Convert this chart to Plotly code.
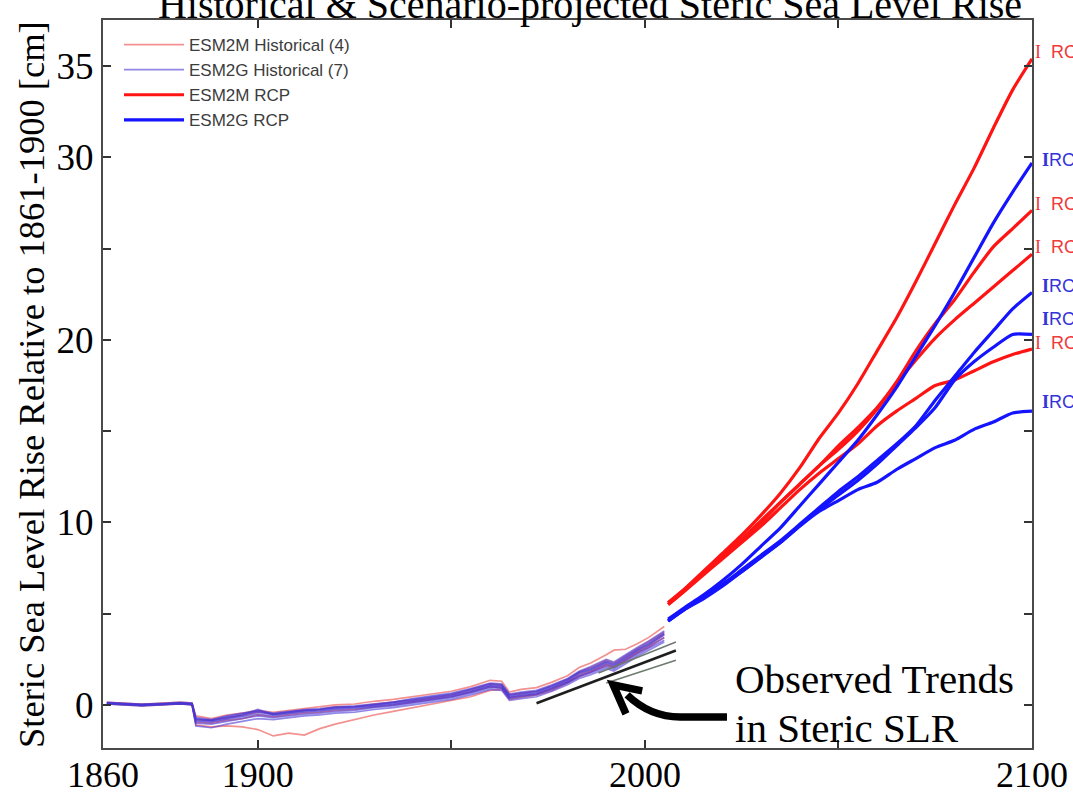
import plotly.graph_objects as go

# ---------------------------------------------------------------- data
hist_years = [1861, 1865, 1870, 1875, 1880, 1883, 1884, 1888, 1892, 1896,
              1900, 1904, 1908, 1912, 1916, 1920, 1925, 1930, 1935, 1940,
              1945, 1950, 1955, 1960, 1963, 1965, 1968, 1972, 1976, 1980,
              1983, 1986, 1990, 1992, 1995, 1998, 2001, 2005]

# ESM2M historical ensemble (4 members), cm
esm2m_hist = [
    [0.12, 0.10, 0.02, 0.08, 0.15, 0.10, -0.60, -0.75, -0.55, -0.45, -0.30, -0.40, -0.30, -0.20, -0.10, 0.00, 0.05, 0.20, 0.30,
     0.45, 0.60, 0.75, 1.00, 1.35, 1.30, 0.70, 0.85, 0.95, 1.25, 1.60, 2.05, 2.30, 2.75, 3.00, 3.05, 3.35, 3.70, 4.30],
    [0.05, 0.00, -0.05, 0.00, 0.05, 0.00, -1.10, -1.20, -1.15, -1.20, -1.35, -1.70, -1.55, -1.65, -1.30, -1.05, -0.80, -0.55, -0.35,
     -0.15, 0.05, 0.25, 0.45, 0.80, 0.85, 0.30, 0.40, 0.55, 0.80, 1.20, 1.55, 1.80, 2.15, 2.05, 2.45, 2.85, 3.15, 3.70],
    [0.15, 0.08, 0.05, 0.10, 0.12, 0.08, -0.80, -0.85, -0.70, -0.55, -0.40, -0.50, -0.40, -0.30, -0.25, -0.10, -0.10, 0.05, 0.15,
     0.25, 0.40, 0.55, 0.85, 1.15, 1.10, 0.55, 0.65, 0.75, 1.05, 1.40, 1.80, 2.05, 2.45, 2.30, 2.70, 3.10, 3.50, 4.00],
    [0.08, 0.02, -0.02, 0.02, 0.08, 0.05, -0.95, -1.00, -0.85, -0.75, -0.55, -0.65, -0.55, -0.45, -0.40, -0.30, -0.25, -0.10, 0.00,
     0.15, 0.30, 0.45, 0.70, 1.00, 0.95, 0.40, 0.50, 0.60, 0.90, 1.25, 1.65, 1.85, 2.25, 2.10, 2.50, 2.90, 3.25, 3.85],
]

# ESM2G historical ensemble (7 members), cm
esm2g_hist = [
    [0.10, 0.05, 0.00, 0.05, 0.10, 0.05, -0.75, -0.85, -0.65, -0.50, -0.25, -0.50, -0.40, -0.30, -0.25, -0.15, -0.10, 0.00, 0.10,
     0.25, 0.40, 0.55, 0.80, 1.10, 1.05, 0.50, 0.60, 0.70, 1.00, 1.35, 1.75, 1.95, 2.35, 2.20, 2.60, 3.00, 3.35, 3.90],
    [0.05, 0.00, -0.05, 0.00, 0.05, 0.00, -0.90, -0.95, -0.80, -0.65, -0.50, -0.60, -0.50, -0.40, -0.35, -0.25, -0.20, -0.10, 0.00,
     0.15, 0.30, 0.45, 0.70, 1.00, 0.95, 0.40, 0.50, 0.60, 0.90, 1.25, 1.60, 1.80, 2.20, 2.05, 2.45, 2.85, 3.20, 3.70],
    [0.12, 0.08, 0.02, 0.05, 0.10, 0.08, -0.70, -0.80, -0.60, -0.45, -0.35, -0.45, -0.35, -0.25, -0.20, -0.10, -0.05, 0.05, 0.15,
     0.30, 0.45, 0.60, 0.85, 1.15, 1.10, 0.55, 0.65, 0.75, 1.05, 1.40, 1.80, 2.00, 2.40, 2.25, 2.65, 3.05, 3.40, 3.95],
    [0.08, 0.02, -0.02, 0.02, 0.08, 0.02, -1.00, -1.05, -0.90, -0.75, -0.60, -0.70, -0.60, -0.50, -0.45, -0.35, -0.30, -0.15, -0.05,
     0.10, 0.25, 0.40, 0.65, 0.95, 0.90, 0.35, 0.45, 0.55, 0.85, 1.20, 1.55, 1.75, 2.10, 1.95, 2.35, 2.75, 3.10, 3.55],
    [0.10, 0.05, 0.00, 0.05, 0.12, 0.05, -0.85, -0.90, -0.75, -0.55, -0.30, -0.55, -0.45, -0.35, -0.30, -0.20, -0.15, -0.05, 0.05,
     0.20, 0.35, 0.50, 0.75, 1.05, 1.00, 0.45, 0.55, 0.65, 0.95, 1.30, 1.70, 1.90, 2.30, 2.15, 2.55, 2.95, 3.30, 3.85],
    [0.06, 0.03, -0.03, 0.03, 0.06, 0.03, -1.15, -1.25, -1.05, -0.90, -0.75, -0.80, -0.70, -0.60, -0.55, -0.45, -0.40, -0.25, -0.15,
     0.00, 0.15, 0.30, 0.55, 0.85, 0.80, 0.25, 0.35, 0.45, 0.75, 1.10, 1.45, 1.65, 2.00, 1.85, 2.25, 2.65, 3.00, 3.45],
    [0.14, 0.10, 0.04, 0.08, 0.14, 0.10, -0.80, -0.85, -0.70, -0.60, -0.40, -0.50, -0.40, -0.30, -0.25, -0.15, -0.10, 0.00, 0.15,
     0.35, 0.50, 0.65, 0.90, 1.20, 1.15, 0.60, 0.70, 0.80, 1.10, 1.45, 1.85, 2.10, 2.50, 2.35, 2.75, 3.15, 3.50, 4.05],
]

rcp_years = [2006, 2010, 2015, 2020, 2025, 2030, 2035, 2040, 2045, 2050,
             2055, 2060, 2065, 2070, 2075, 2080, 2085, 2090, 2095, 2100]

esm2m_rcp85 = [5.6, 6.3, 7.3, 8.3, 9.3, 10.4, 11.6, 13.0, 14.6, 16.0, 17.6, 19.4, 21.2, 23.2, 25.3, 27.4, 29.4, 31.6, 33.7, 35.4]
esm2m_rcp60 = [5.5, 6.2, 7.2, 8.1, 9.0, 10.0, 11.1, 12.1, 13.1, 14.2, 15.2, 16.3, 17.7, 19.4, 20.9, 22.2, 23.7, 25.1, 26.1, 27.1]
esm2m_rcp45 = [5.6, 6.3, 7.2, 8.2, 9.1, 10.1, 11.1, 12.1, 13.1, 14.0, 15.0, 16.2, 17.6, 18.9, 20.1, 21.1, 22.0, 22.9, 23.8, 24.7]
esm2m_rcp26 = [5.5, 6.2, 7.1, 8.0, 8.9, 9.8, 10.8, 11.8, 12.7, 13.5, 14.3, 15.3, 16.1, 16.8, 17.5, 17.8, 18.3, 18.8, 19.2, 19.5]

esm2g_rcp85 = [4.7, 5.3, 6.0, 6.8, 7.7, 8.7, 9.7, 10.9, 12.1, 13.3, 14.5, 15.9, 17.4, 19.1, 20.8, 22.6, 24.5, 26.4, 28.1, 29.7]
esm2g_rcp60 = [4.6, 5.2, 5.9, 6.6, 7.4, 8.2, 9.0, 9.9, 10.8, 11.7, 12.5, 13.4, 14.3, 15.3, 16.7, 18.0, 19.3, 20.5, 21.7, 22.6]
esm2g_rcp45 = [4.6, 5.2, 5.9, 6.6, 7.3, 8.1, 8.9, 9.8, 10.7, 11.5, 12.3, 13.2, 14.2, 15.2, 16.3, 17.8, 18.8, 19.6, 20.3, 20.3]
esm2g_rcp26 = [4.6, 5.2, 5.8, 6.5, 7.3, 8.1, 8.9, 9.8, 10.6, 11.2, 11.8, 12.2, 12.9, 13.5, 14.1, 14.5, 15.1, 15.5, 16.0, 16.1]

scenario_names = ["RCP8.5", "RCP6.0", "RCP4.5", "RCP2.6"]

# observed steric trend lines: (start year, end year), (start cm, end cm)
trend_main_years = [1972, 2008]
trend_main_vals = [0.09, 2.98]
trend_high_years = [1988, 2008]
trend_high_vals = [1.75, 3.45]
trend_low_years = [1990, 2008]
trend_low_vals = [1.20, 2.45]

# ---------------------------------------------------------------- styling
W, H = 1073, 793
ML, MR, MT, MB = 103, 41, 20, 45
PW, PH = W - ML - MR, H - MT - MB
SERIF = "Liberation Serif"
SANS = "Liberation Sans"

RED_THIN = "rgba(235,70,70,0.6)"
BLUE_THIN = "rgba(70,55,215,0.6)"
RED = "#ff1414"
BLUE = "#1414ff"


def px_x(px):
    return (px - ML) / PW


def px_y(py):
    return 1 - (py - MT) / PH


fig = go.Figure()

for i, run in enumerate(esm2m_hist):
    fig.add_trace(go.Scatter(x=hist_years, y=run, mode="lines",
                             line=dict(color=RED_THIN, width=1.7),
                             name="ESM2M Historical (4)", legendgroup="mh",
                             showlegend=(i == 0)))
for i, run in enumerate(esm2g_hist):
    fig.add_trace(go.Scatter(x=hist_years, y=run, mode="lines",
                             line=dict(color=BLUE_THIN, width=1.7),
                             name="ESM2G Historical (7)", legendgroup="gh",
                             showlegend=(i == 0)))

# observed trends
fig.add_trace(go.Scatter(x=trend_high_years, y=trend_high_vals, mode="lines",
                         line=dict(color="#6f7a6f", width=1.5), showlegend=False))
fig.add_trace(go.Scatter(x=trend_low_years, y=trend_low_vals, mode="lines",
                         line=dict(color="#6f7a6f", width=1.5), showlegend=False))
fig.add_trace(go.Scatter(x=trend_main_years, y=trend_main_vals, mode="lines",
                         line=dict(color="#1e1e1e", width=2.5), showlegend=False))

esm2m_rcp = [esm2m_rcp85, esm2m_rcp60, esm2m_rcp45, esm2m_rcp26]
esm2g_rcp = [esm2g_rcp85, esm2g_rcp60, esm2g_rcp45, esm2g_rcp26]

for i, vals in enumerate(esm2m_rcp):
    fig.add_trace(go.Scatter(x=rcp_years, y=vals, mode="lines",
                             line=dict(color=RED, width=3.2, shape="spline", smoothing=0.6),
                             name="ESM2M RCP", legendgroup="mr",
                             showlegend=(i == 0)))
for i, vals in enumerate(esm2g_rcp):
    fig.add_trace(go.Scatter(x=rcp_years, y=vals, mode="lines",
                             line=dict(color=BLUE, width=3.2, shape="spline", smoothing=0.6),
                             name="ESM2G RCP", legendgroup="gr",
                             showlegend=(i == 0)))

# scenario tags just outside the right edge of the box
bar = '<span style="font-family:Liberation Serif">I</span>'
label_shift_m = [7, 6, 7, 6]
label_shift_g = [3, 6, 15, 9]
for vals, name, dy in zip(esm2m_rcp, scenario_names, label_shift_m):
    fig.add_annotation(x=rcp_years[-1], y=vals[-1], xref="x", yref="y",
                       text=bar + "\u00a0\u00a0" + name, showarrow=False, xanchor="left",
                       yanchor="middle", xshift=1, yshift=dy,
                       font=dict(family=SANS, size=18, color="#f03a3a"))
for vals, name, dy in zip(esm2g_rcp, scenario_names, label_shift_g):
    fig.add_annotation(x=rcp_years[-1], y=vals[-1], xref="x", yref="y",
                       text="<b>" + bar + "</b>" + name, showarrow=False, xanchor="left",
                       yanchor="middle", xshift=8, yshift=dy,
                       font=dict(family=SANS, size=18, color="#3434d8"))

# vertical axis title
fig.add_annotation(x=px_x(31), y=px_y(385), xref="paper", yref="paper",
                   text="Steric Sea Level Rise Relative to 1861-1900 [cm]",
                   textangle=-90, showarrow=False,
                   xanchor="center", yanchor="middle",
                   font=dict(family=SERIF, size=36.5, color="black"))

# annotation text and curved arrow
fig.add_annotation(x=px_x(733), y=px_y(679), xref="paper", yref="paper",
                   text="Observed Trends", showarrow=False,
                   xanchor="left", yanchor="middle",
                   font=dict(family=SERIF, size=41, color="black"))
fig.add_annotation(x=px_x(733), y=px_y(728), xref="paper", yref="paper",
                   text="in Steric SLR", showarrow=False,
                   xanchor="left", yanchor="middle",
                   font=dict(family=SERIF, size=41, color="black"))

fig.add_shape(type="path", xref="x", yref="y",
              path="M 1995.4,0.55 Q 2001.3,-0.66 2009.1,-0.66 L 2021.2,-0.66",
              line=dict(color="black", width=7.5))
fig.add_shape(type="path", xref="x", yref="y",
              path="M 1999.3,0.77 L 1991.8,1.10 L 1995.1,-0.49",
              line=dict(color="black", width=7.5))

axis_common = dict(showline=True, linewidth=2, linecolor="#4a4a4a", mirror="ticks",
                   ticks="inside", ticklen=8, tickwidth=2, tickcolor="#333333",
                   showgrid=False, zeroline=False)

fig.update_xaxes(range=[1860, 2100],
                 tickvals=[1860, 1900, 1950, 2000, 2050, 2100],
                 ticktext=["1860", "1900", "", "2000", "", "2100"],
                 tickfont=dict(family=SERIF, size=36, color="black"),
                 ticklabelstandoff=-6,
                 **axis_common)
fig.update_yaxes(range=[-2.36, 37.53],
                 tickvals=[0, 5, 10, 15, 20, 25, 30, 35],
                 ticktext=["0", "", "10", "", "20", "", "30", "35"],
                 tickfont=dict(family=SERIF, size=37, color="black"),
                 **axis_common)

fig.update_layout(
    width=W, height=H,
    margin=dict(l=ML, r=MR, t=MT, b=MB, autoexpand=False),
    plot_bgcolor="white", paper_bgcolor="white",
    title=dict(text="Historical & Scenario-projected Steric Sea Level Rise",
               font=dict(family=SERIF, size=40, color="black"),
               x=590 / W, xanchor="center", xref="container",
               y=1 - 18 / H, yanchor="bottom", yref="container"),
    legend=dict(x=px_x(119), y=px_y(27),
                xanchor="left", yanchor="top", bgcolor="rgba(0,0,0,0)",
                itemwidth=60, tracegroupgap=0,
                font=dict(family=SANS, size=17, color="#3c3c3c")),
    showlegend=True,
)

fig.write_html("out.html")
